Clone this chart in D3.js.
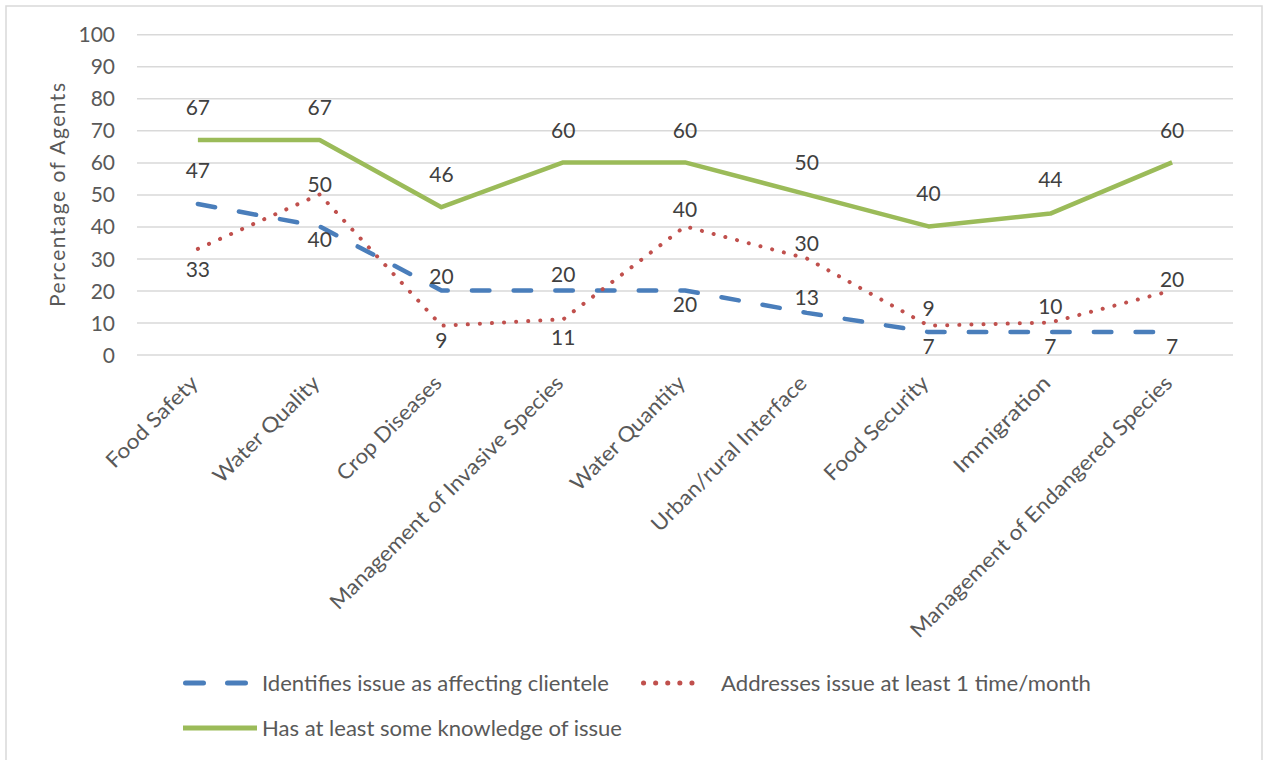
<!DOCTYPE html>
<html>
<head>
<meta charset="utf-8">
<script src="https://cdn.jsdelivr.net/npm/d3@7"></script>
<style>
  html, body { margin: 0; padding: 0; background: #fff; }
  svg { display: block; }
  text { font-family: Lato, "Open Sans", sans-serif; }
</style>
</head>
<body>
<svg id="chart" width="1264" height="760"></svg>
<script>
// ---------- data ----------
const categories = [
  "Food Safety", "Water Quality", "Crop Diseases", "Management of Invasive Species",
  "Water Quantity", "Urban/rural Interface", "Food Security", "Immigration",
  "Management of Endangered Species"
];
const identifiesValues = [47, 40, 20, 20, 20, 13, 7, 7, 7];
const addressesValues  = [33, 50, 9, 11, 40, 30, 9, 10, 20];
const knowledgeValues  = [67, 67, 46, 60, 60, 50, 40, 44, 60];
const yTicks = [0, 10, 20, 30, 40, 50, 60, 70, 80, 90, 100];
const seriesNames = [
  "Identifies issue as affecting clientele",
  "Addresses issue at least 1 time/month",
  "Has at least some knowledge of issue"
];
const yAxisTitle = "Percentage of Agents";

// ---------- label placement (pixels, relative to point) ----------
const identifiesLabelDy = [-34, 13.5, -14.5, -16.5, 13.5, -15.5, 14, 14, 14];
const addressesLabelDy  = [21, -10, 15, 18.5, -16.5, -15.5, -17, -16.5, -11.5];
const knowledgeLabelDy  = [-33, -33, -33, -32, -32, -32, -33, -34, -32];
const xLabelLengths = [120, 141, 138, 320, 152, 210, 138, 127, 360];
const legendTextLengths = [347, 370, 360];

// ---------- layout ----------
const svg = d3.select("#chart");
const plotLeft = 137, plotRight = 1233, plotTop = 34.3, plotBottom = 354.5;

svg.append("rect")
  .attr("x", 6).attr("y", 6).attr("width", 1256).attr("height", 770)
  .attr("fill", "#fff").attr("stroke", "#d9d9d9").attr("stroke-width", 1.5);

const x = d3.scalePoint().domain(categories).range([plotLeft, plotRight]).padding(0.5);
const y = d3.scaleLinear().domain([0, 100]).range([plotBottom, plotTop]);

// y axis with gridlines
const yAxis = svg.append("g")
  .attr("transform", `translate(${plotLeft},0)`)
  .call(d3.axisLeft(y).tickValues(yTicks).tickSize(-(plotRight - plotLeft)).tickPadding(22).tickFormat(d3.format("d")));
yAxis.select(".domain").remove();
yAxis.selectAll(".tick line").attr("stroke", "#d9d9d9").attr("stroke-width", 1.5);
yAxis.selectAll(".tick text")
  .attr("fill", "#595959").attr("font-size", 21).attr("dy", "0.36em")
  .style("font-family", "Lato, sans-serif");

// x axis labels
const xAxis = svg.append("g")
  .attr("transform", `translate(0,${plotBottom})`)
  .call(d3.axisBottom(x).tickSize(0));
xAxis.select(".domain").remove();
xAxis.selectAll(".tick text")
  .attr("x", 0).attr("y", 0).attr("dy", 0)
  .attr("text-anchor", "end")
  .attr("transform", "translate(1,30) rotate(-45)")
  .attr("fill", "#595959").attr("font-size", 21)
  .style("font-family", "Lato, sans-serif")
  .attr("textLength", (d, i) => xLabelLengths[i])
  .attr("lengthAdjust", "spacingAndGlyphs");

// y axis title
svg.append("text")
  .attr("transform", `translate(57,${(83 + 307) / 2}) rotate(-90)`)
  .attr("text-anchor", "middle").attr("dy", "0.36em")
  .attr("fill", "#595959").attr("font-size", 21)
  .attr("textLength", 224).attr("lengthAdjust", "spacing")
  .text(yAxisTitle);

// ---------- series ----------
const series = [
  { name: seriesNames[0], values: identifiesValues, dy: identifiesLabelDy, color: "#4a7ebb",
    width: 4.5, dash: "17.5,24.2", cap: "round" },
  { name: seriesNames[1], values: addressesValues, dy: addressesLabelDy, color: "#c0504d",
    width: 4, dash: "0.1,12", cap: "round" },
  { name: seriesNames[2], values: knowledgeValues, dy: knowledgeLabelDy, color: "#9bbb59",
    width: 4.5, dash: null, cap: "butt" }
];

const line = d3.line().x((d, i) => x(categories[i])).y(d => y(d));

series.forEach(s => {
  svg.append("path")
    .datum(s.values)
    .attr("d", line)
    .attr("fill", "none")
    .attr("stroke", s.color)
    .attr("stroke-width", s.width)
    .attr("stroke-linecap", s.cap)
    .attr("stroke-linejoin", "round")
    .attr("stroke-dasharray", s.dash);
});

// data labels
series.forEach(s => {
  svg.append("g").selectAll("text")
    .data(s.values)
    .join("text")
    .attr("x", (d, i) => x(categories[i]))
    .attr("y", (d, i) => y(d) + s.dy[i])
    .attr("dy", "0.36em")
    .attr("text-anchor", "middle")
    .attr("fill", "#404040")
    .attr("font-size", 21)
    .text(d => d);
});

// ---------- legend ----------
const legend = svg.append("g");
const legendItems = [
  { s: series[0], x0: 183, x1: 248, tx: 262, y: 683 },
  { s: series[1], x0: 641, x1: 705, tx: 721, y: 683 },
  { s: series[2], x0: 183, x1: 257, tx: 262, y: 728 }
];
legendItems.forEach((it, i) => {
  let dash = it.s.dash;
  if (i === 0) dash = "18,24";
  legend.append("line")
    .attr("x1", it.x0 + (it.s.cap === "round" ? 2.5 : 0))
    .attr("x2", it.x1 - (it.s.cap === "round" ? 2.5 : 0))
    .attr("y1", it.y).attr("y2", it.y)
    .attr("stroke", it.s.color)
    .attr("stroke-width", 5)
    .attr("stroke-linecap", it.s.cap)
    .attr("stroke-dasharray", dash);
  legend.append("text")
    .attr("x", it.tx).attr("y", it.y)
    .attr("dy", "0.36em")
    .attr("fill", "#595959").attr("font-size", 21)
    .attr("textLength", legendTextLengths[i])
    .attr("lengthAdjust", "spacingAndGlyphs")
    .text(it.s.name);
});
</script>
</body>
</html>
